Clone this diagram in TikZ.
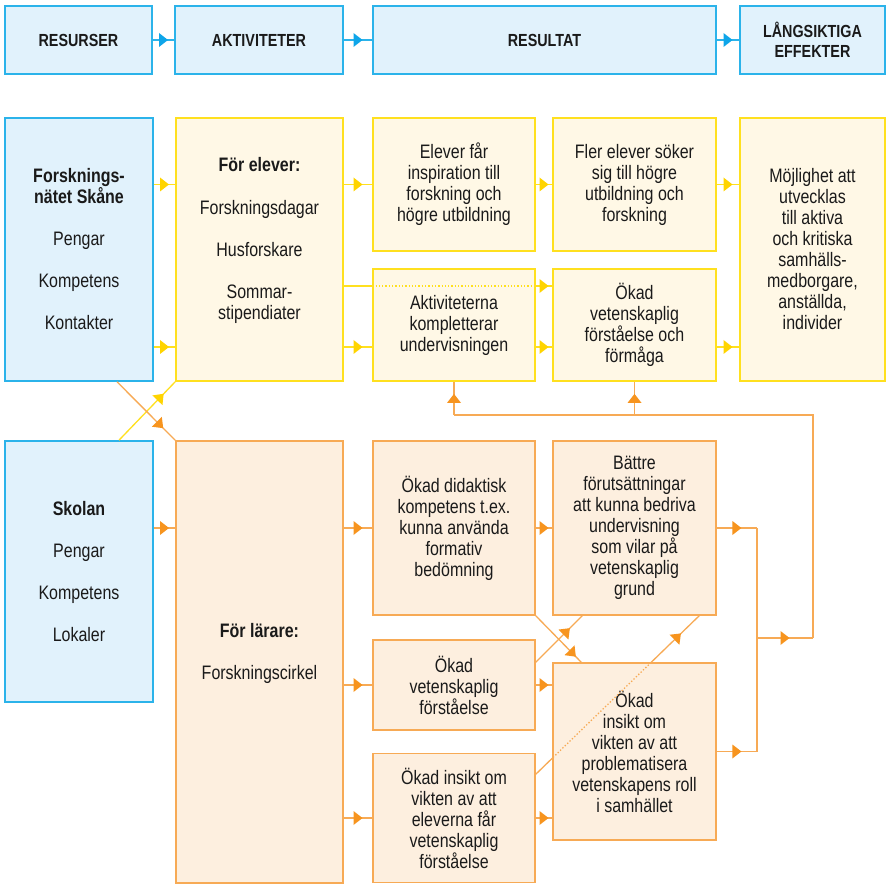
\documentclass[tikz,border=0pt]{standalone}
\usepackage{fontspec}
\setmainfont{Liberation Sans}[FakeStretch=0.82]
\usetikzlibrary{decorations.markings}
\definecolor{bfill}{HTML}{E1F2FC}
\definecolor{bline}{HTML}{2BB3EA}
\definecolor{bhead}{HTML}{0EA5E9}
\definecolor{yfill}{HTML}{FFF8E6}
\definecolor{yline}{HTML}{FFE01F}
\definecolor{yhead}{HTML}{FFD400}
\definecolor{ofill}{HTML}{FDEFDF}
\definecolor{oline}{HTML}{F7AA55}
\definecolor{ohead}{HTML}{F7941E}
\definecolor{tcol}{HTML}{1A1A1A}
\tikzset{
  boxbase/.style={rectangle, line width=1.6pt, inner sep=0pt, align=center, text=tcol,
    font=\fontsize{19.5}{21}\selectfont},
  bbox/.style={boxbase, draw=bline, fill=bfill},
  ybox/.style={boxbase, draw=yline, fill=yfill},
  obox/.style={boxbase, draw=oline, fill=ofill},
  hbox/.style={bbox, font=\fontsize{17.5}{20}\selectfont\bfseries},
  lbl/.style={align=center, text=tcol, inner sep=0pt, font=\fontsize{19.5}{21}\selectfont},
  sz/.style 2 args={minimum width=#1pt, minimum height=#2pt},
  midarr/.style 2 args={postaction={decorate,decoration={markings,
    mark=at position #1 with {\fill[#2] (-4.5pt,-7pt) -- (4.5pt,0pt) -- (-4.5pt,7pt) -- cycle;}}}},
  bcon/.style={draw=bline, line width=1.3pt},
  ycon/.style={draw=yline, line width=1.3pt},
  ocon/.style={draw=oline, line width=1.3pt},
}
\begin{document}
\begin{tikzpicture}[x=1pt,y=-1pt]
\useasboundingbox (0,0) rectangle (887,885);
\fill[white] (0,0) rectangle (887,885);

% header row
\node[hbox, sz={147}{68}] (H1) at (78.5,40) {RESURSER};
\node[hbox, sz={168}{68}] (H2) at (259,40) {AKTIVITETER};
\node[hbox, sz={343}{68}] (H3) at (544.5,40) {RESULTAT};
\node[hbox, sz={145}{68}] (H4) at (812.5,40) {LÅNGSIKTIGA\\EFFEKTER};

% resources
\node[bbox, sz={148}{263}] (R1) at (79,249.5)
  {\textbf{Forsknings-}\\\textbf{nätet Skåne}\\[21pt]Pengar\\[21pt]Kompetens\\[21pt]Kontakter};
\node[bbox, sz={148}{261}] (R2) at (79,571.5)
  {\textbf{Skolan}\\[21pt]Pengar\\[21pt]Kompetens\\[21pt]Lokaler};

% activities
\node[ybox, sz={167}{263}] (Y) at (259.5,249.5) {};
\node[lbl] (Ytxt) at (259.5,240)
  {\textbf{För elever:}\\[22pt]Forskningsdagar\\[21pt]Husforskare\\[21pt]Sommar-\\stipendiater};
\node[obox, sz={167}{442}] (O) at (259.5,662) {};
\node[lbl] (Otxt) at (259.5,653) {\textbf{För lärare:}\\[21pt]Forskningscirkel};

% yellow results
\node[ybox, sz={162}{133}] (Y1) at (454,184.5) {Elever får\\inspiration till\\forskning och\\högre utbildning};
\node[ybox, sz={162}{112}] (Y2) at (454,325) {Aktiviteterna\\kompletterar\\undervisningen};
\node[ybox, sz={163}{133}] (Y3) at (634.5,184.5) {Fler elever söker\\sig till högre\\utbildning och\\forskning};
\node[ybox, sz={163}{112}] (Y4) at (634.5,325) {Ökad\\vetenskaplig\\förståelse och\\förmåga};
\node[ybox, sz={145}{263}] (Y5) at (812.5,249.5) {Möjlighet att\\utvecklas\\till aktiva\\och kritiska\\samhälls-\\medborgare,\\anställda,\\individer};

% orange results
\node[obox, sz={162}{174}] (A) at (454,528) {Ökad didaktisk\\kompetens t.ex.\\kunna använda\\formativ\\bedömning};
\node[obox, sz={162}{90}] (B) at (454,685) {Ökad\\vetenskaplig\\förståelse};
\node[obox, sz={162}{129}] (C) at (454,818) {Ökad insikt om\\vikten av att\\eleverna får\\vetenskaplig\\förståelse};
\node[obox, sz={163}{174}] (D) at (634.5,528) {Bättre\\förutsättningar\\att kunna bedriva\\undervisning\\som vilar på\\vetenskaplig\\grund};
\node[obox, sz={163}{177}] (E) at (634.5,751.5) {Ökad\\insikt om\\vikten av att\\problematisera\\vetenskapens roll\\i samhället};

% helper coordinates
\coordinate (rowb) at (0,347);
\coordinate (rowd) at (0,286);
\coordinate (xr1) at (117,0);
\coordinate (xr2) at (119,0);

% header connectors
\draw[bcon, midarr={0.5}{bhead}] (H1.east) -- (H2.west);
\draw[bcon, midarr={0.5}{bhead}] (H2.east) -- (H3.west);
\draw[bcon, midarr={0.5}{bhead}] (H3.east) -- (H4.west);

% resources -> activities (yellow)
\draw[ycon, midarr={0.5}{yhead}] (R1.east |- Y1.west) -- (Y.west |- Y1.west);
\draw[ycon, midarr={0.5}{yhead}] (R1.east |- rowb) -- (Y.west |- rowb);
\draw[ycon, midarr={0.74}{yhead}] (R2.north -| xr2) -- (Y.south west);
% resources -> activities (orange)
\draw[ocon, midarr={0.5}{ohead}] (R2.east |- A.west) -- (O.west |- A.west);
\draw[ocon, midarr={0.74}{ohead}] (R1.south -| xr1) -- (O.north west);

% yellow flow
\draw[ycon, midarr={0.5}{yhead}] (Y.east |- Y1.west) -- (Y1.west);
\draw[ycon, midarr={0.5}{yhead}] (Y.east |- rowb) -- (Y2.west |- rowb);
\draw[ycon] (Y.east |- rowd) -- (Y2.west |- rowd);
\draw[draw=yline, line width=1.3pt, dotted] (Y2.west |- rowd) -- (Y2.east |- rowd);
\draw[ycon, midarr={0.5}{yhead}] (Y2.east |- rowd) -- (Y4.west |- rowd);
\draw[ycon, midarr={0.5}{yhead}] (Y1.east) -- (Y3.west);
\draw[ycon, midarr={0.5}{yhead}] (Y2.east |- rowb) -- (Y4.west |- rowb);
\draw[ycon, midarr={0.5}{yhead}] (Y3.east) -- (Y5.west |- Y3.east);
\draw[ycon, midarr={0.5}{yhead}] (Y4.east |- rowb) -- (Y5.west |- rowb);

% orange flow
\draw[ocon, midarr={0.5}{ohead}] (O.east |- A.west) -- (A.west);
\draw[ocon, midarr={0.5}{ohead}] (O.east |- B.west) -- (B.west);
\draw[ocon, midarr={0.5}{ohead}] (O.east |- C.west) -- (C.west);
\draw[ocon, midarr={0.5}{ohead}] (A.east) -- (D.west);
\draw[ocon, midarr={0.5}{ohead}] (B.east) -- (E.west |- B.east);
\draw[ocon, midarr={0.5}{ohead}] (C.east) -- (E.west |- C.east);

% diagonals
\coordinate (ae) at (582,663);
\coordinate (bs) at (535,663);
\coordinate (bd) at (583,615);
\coordinate (cs) at (535,775);
\coordinate (ce1) at (553,757.5);
\coordinate (ce2) at (650.5,663);
\coordinate (cd) at (700,615);
\draw[ocon, midarr={0.80}{ohead}] (A.south east) -- (ae);
\draw[ocon, midarr={0.66}{ohead}] (bs) -- (bd);
\draw[ocon] (cs) -- (ce1);
\draw[draw=oline, line width=1.3pt, dotted] (ce1) -- (ce2);
\draw[ocon, midarr={0.55}{ohead}] (ce2) -- (cd);

% feedback loop
\coordinate (j1) at (757,528);
\coordinate (j2) at (757,751.5);
\coordinate (jm) at (757,638);
\coordinate (jr) at (813,638);
\coordinate (jt) at (813,415);
\coordinate (ja) at (454,415);
\coordinate (jb) at (634.5,415);
\draw[ocon, midarr={0.5}{ohead}] (D.east) -- (j1);
\draw[ocon, midarr={0.5}{ohead}] (E.east) -- (j2);
\draw[ocon] (j1) -- (j2);
\draw[ocon, midarr={0.5}{ohead}] (jm) -- (jr);
\draw[ocon] (jr) -- (jt) -- (ja);
\draw[ocon, midarr={0.5}{ohead}] (ja) -- (Y2.south);
\draw[ocon, midarr={0.5}{ohead}] (jb) -- (Y4.south);
\end{tikzpicture}
\end{document}
